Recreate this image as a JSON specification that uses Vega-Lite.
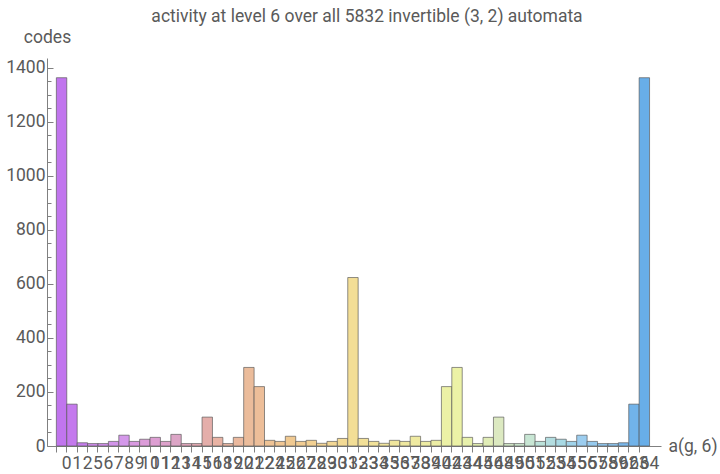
{
  "$schema": "https://vega.github.io/schema/vega-lite/v6.json",
  "width": 614,
  "height": 388,
  "autosize": "none",
  "padding": {"left": 47, "top": 58, "right": 59, "bottom": 28},
  "background": "white",
  "config": {
    "view": {"stroke": null},
    "font": "Roboto",
    "axis": {"grid": false, "labelFont": "Roboto", "titleFont": "Roboto", "labelColor": "#5a5a5a", "titleColor": "#5a5a5a", "domainColor": "#808080", "tickColor": "#808080", "labelFontSize": 17.5, "titleFontSize": 17.5, "titleFontWeight": "normal"}
  },
  "title": {"text": "activity at level 6 over all 5832 invertible (3, 2) automata", "fontSize": 17.5, "fontWeight": "normal", "color": "#5a5a5a", "font": "Roboto", "anchor": "middle", "frame": "group", "dx": 13, "dy": 1},
  "data": {
    "values": [
      {"a": 0, "codes": 1364}, {"a": 1, "codes": 155}, {"a": 2, "codes": 12}, {"a": 5, "codes": 9},
      {"a": 6, "codes": 9}, {"a": 7, "codes": 17}, {"a": 8, "codes": 40}, {"a": 9, "codes": 17},
      {"a": 10, "codes": 25}, {"a": 11, "codes": 32}, {"a": 12, "codes": 17}, {"a": 13, "codes": 43},
      {"a": 14, "codes": 9}, {"a": 15, "codes": 9}, {"a": 16, "codes": 107}, {"a": 18, "codes": 32},
      {"a": 19, "codes": 9}, {"a": 20, "codes": 32}, {"a": 21, "codes": 291}, {"a": 22, "codes": 220},
      {"a": 24, "codes": 21}, {"a": 25, "codes": 17}, {"a": 26, "codes": 36}, {"a": 27, "codes": 17},
      {"a": 28, "codes": 21}, {"a": 29, "codes": 10}, {"a": 30, "codes": 17}, {"a": 31, "codes": 28},
      {"a": 32, "codes": 624},
      {"a": 33, "codes": 28}, {"a": 34, "codes": 17}, {"a": 35, "codes": 10}, {"a": 36, "codes": 21},
      {"a": 37, "codes": 17}, {"a": 38, "codes": 36}, {"a": 39, "codes": 17}, {"a": 40, "codes": 21},
      {"a": 42, "codes": 220}, {"a": 43, "codes": 291}, {"a": 44, "codes": 32}, {"a": 45, "codes": 9},
      {"a": 46, "codes": 32}, {"a": 48, "codes": 107}, {"a": 49, "codes": 9}, {"a": 50, "codes": 9},
      {"a": 51, "codes": 43}, {"a": 52, "codes": 17}, {"a": 53, "codes": 32}, {"a": 54, "codes": 25},
      {"a": 55, "codes": 17}, {"a": 56, "codes": 40}, {"a": 57, "codes": 17}, {"a": 58, "codes": 9},
      {"a": 59, "codes": 9}, {"a": 62, "codes": 12}, {"a": 63, "codes": 155}, {"a": 64, "codes": 1364}
    ]
  },
  "encoding": {
    "x": {
      "field": "a",
      "type": "ordinal",
      "scale": {"paddingInner": 0, "paddingOuter": 1.21, "align": 0.45},
      "axis": {
        "title": "a(g, 6)",
        "titleX": 621,
        "titleY": 0,
        "titleAlign": "left",
        "titleBaseline": "middle",
        "labelAngle": 0,
        "labelOverlap": false,
        "labelFlush": false,
        "labelBound": false,
        "bandPosition": 0,
        "labelOffset": 5.17,
        "labelPadding": 2,
        "tickSize": 6
      }
    },
    "y": {
      "field": "codes",
      "type": "quantitative",
      "scale": {"domain": [0, 1437], "nice": false, "zero": true}
    }
  },
  "layer": [
    {
      "mark": {"type": "bar", "stroke": "#555555", "strokeOpacity": 0.65, "strokeWidth": 1},
      "encoding": {
        "color": {
          "field": "a",
          "type": "quantitative",
          "legend": null,
          "scale": {
            "domain": [0, 8, 13, 16, 21, 26, 32, 40, 43, 48, 51, 53, 56, 62, 64],
            "range": ["#C175EE", "#D498EA", "#DCA5C6", "#E4AEAA", "#EBBC9B", "#F0C991", "#F3DE96", "#EDEEA5", "#ECF2A6", "#DCE9C1", "#C8E6D4", "#B3DDE0", "#9CCDEF", "#7AB8EC", "#68AEE8"]
          }
        },
        "y": {
          "field": "codes",
          "type": "quantitative",
          "axis": {
            "title": "codes",
            "titleAngle": 0,
            "titleX": 0,
            "titleY": -21,
            "titleAlign": "center",
            "titleBaseline": "middle",
            "format": "d",
            "values": [0, 200, 400, 600, 800, 1000, 1200, 1400],
            "tickSize": -6,
            "labelPadding": 8
          }
        }
      }
    },
    {
      "mark": {"type": "tick", "opacity": 0},
      "encoding": {
        "y": {
          "field": "codes",
          "type": "quantitative",
          "axis": {
            "orient": "left",
            "title": null,
            "labels": false,
            "domain": false,
            "values": [50, 100, 150, 250, 300, 350, 450, 500, 550, 650, 700, 750, 850, 900, 950, 1050, 1100, 1150, 1250, 1300, 1350],
            "tickSize": -4
          }
        }
      }
    }
  ],
  "resolve": {"axis": {"y": "independent"}}
}
